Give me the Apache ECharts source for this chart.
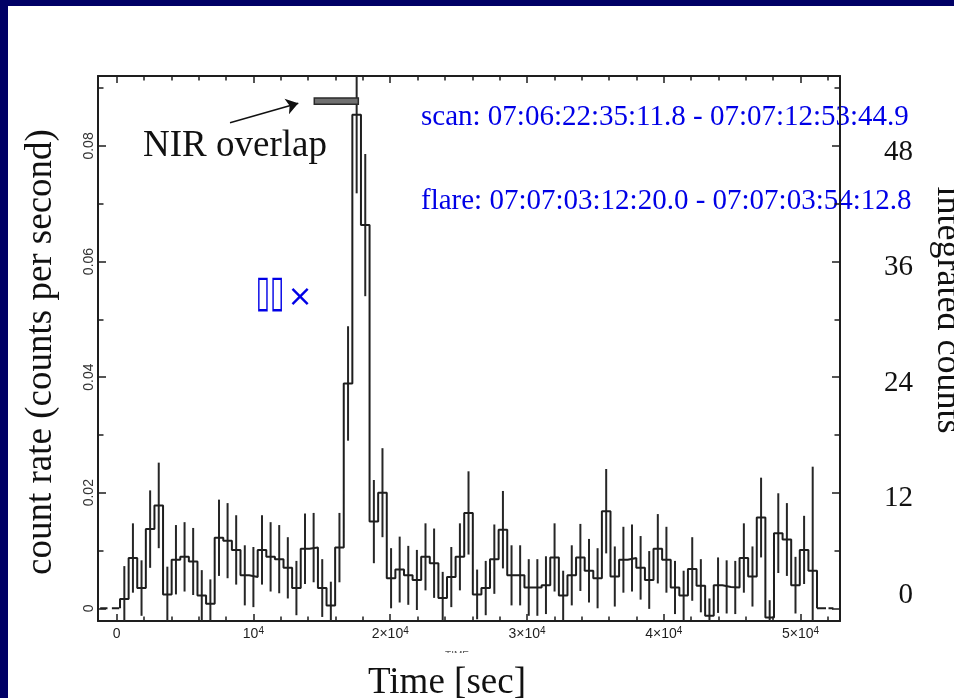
<!DOCTYPE html>
<html>
<head>
<meta charset="utf-8">
<title>X-ray light curve</title>
<script src="https://cdn.jsdelivr.net/npm/echarts@6/dist/echarts.min.js"></script>
<style>
  html, body { margin: 0; padding: 0; background: #ffffff; }
  #chart { width: 954px; height: 698px; }
</style>
</head>
<body>
<div id="chart"></div>
<script>
// ---- light curve data (count rate per time bin) ----
const binStartSec = 250;   // start of the first bin [s]
const binWidthSec = 629;   // bin width [s]

const countRate = [
  0.0016, 0.0087, 0.0035, 0.0137, 0.0178, 0.0024, 0.0084, 0.0089, 0.0081, 0.0022,
  0.0008, 0.0122, 0.0117, 0.0101, 0.0057, 0.0054, 0.0101, 0.0089, 0.0085, 0.0070,
  0.0035, 0.0103, 0.0105, 0.0035, 0.0005, 0.0105, 0.0389, 0.0854, 0.0663, 0.0150,
  0.0200, 0.0052, 0.0067, 0.0057, 0.0049, 0.0089, 0.0078, 0.0018, 0.0054, 0.0089,
  0.0165, 0.0024, 0.0035, 0.0085, 0.0136, 0.0057, 0.0057, 0.0036, 0.0036, 0.0040,
  0.0088, 0.0022, 0.0057, 0.0088, 0.0065, 0.0052, 0.0168, 0.0055, 0.0084, 0.0087,
  0.0070, 0.0049, 0.0103, 0.0084, 0.0036, 0.0022, 0.0068, 0.0039, -0.0013, 0.0040,
  0.0037, 0.0036, 0.0087, 0.0055, 0.0157, -0.0016, 0.0130, 0.0119, 0.0040, 0.0101,
  0.0065
];

const rateError = [
  0.0057, 0.0060, 0.0048, 0.0067, 0.0074, 0.0048, 0.0060, 0.0060, 0.0058, 0.0044,
  0.0042, 0.0066, 0.0065, 0.0060, 0.0052, 0.0052, 0.0060, 0.0060, 0.0059, 0.0053,
  0.0047, 0.0061, 0.0060, 0.0050, 0.0041, 0.0060, 0.0099, 0.0136, 0.0123, 0.0072,
  0.0077, 0.0052, 0.0057, 0.0051, 0.0052, 0.0058, 0.0060, 0.0045, 0.0052, 0.0058,
  0.0072, 0.0043, 0.0047, 0.0060, 0.0067, 0.0052, 0.0052, 0.0049, 0.0049, 0.0050,
  0.0059, 0.0043, 0.0052, 0.0058, 0.0055, 0.0052, 0.0073, 0.0052, 0.0057, 0.0058,
  0.0055, 0.0050, 0.0060, 0.0057, 0.0046, 0.0043, 0.0055, 0.0046, 0.0030, 0.0048,
  0.0046, 0.0046, 0.0060, 0.0052, 0.0069, 0.0030, 0.0069, 0.0063, 0.0049, 0.0059,
  0.0180
];

// zero-exposure stretches before and after the observation [s]
const leadingGap = [-1200, 250];
const trailingGap = [51199, 52400];

// NIR coverage window [s]
const nirOverlap = [14450, 17670];

// ---- axes ----
const xMajorTicks = [0, 10000, 20000, 30000, 40000, 50000];
const xTickBase = ['0', '10', '2\u00d710', '3\u00d710', '4\u00d710', '5\u00d710'];
const xTickExp = ['', '4', '4', '4', '4', '4'];
const yMajorTicks = [0, 0.02, 0.04, 0.06, 0.08];
const yTickLabels = ['0', '0.02', '0.04', '0.06', '0.08'];
const yMinorTicks = [0.01, 0.03, 0.05, 0.07, 0.09];
const countTickLabels = ['0', '12', '24', '36', '48'];

const scanLabel = 'scan: 07:06:22:35:11.8 - 07:07:12:53:44.9';
const flareLabel = 'flare: 07:07:03:12:20.0 - 07:07:03:54:12.8';

// ---- derived drawing data ----
const xMin = -1360, xMax = 52880;
const yMin = -0.0022, yMax = 0.0921;

const xMinorTicks = [];
for (let t = 2000; t <= 52000; t += 2000) {
  if (t % 10000 !== 0) xMinorTicks.push(t);
}

const stepPoints = [[binStartSec, 0]];
countRate.forEach((v, i) => {
  const a = binStartSec + i * binWidthSec;
  stepPoints.push([a, v], [a + binWidthSec, v]);
});
stepPoints.push([binStartSec + countRate.length * binWidthSec, 0]);

const errorBars = countRate.map((v, i) => [binStartSec + (i + 0.5) * binWidthSec, v, rateError[i]]);

const SERIF = '"Liberation Serif", "Times New Roman", Times, serif';
const SANS = '"Liberation Sans", Helvetica, Arial, sans-serif';
const INK = '#1e1e1e';
const BLUE = '#0000e6';
const NAVY = '#000066';

function indexOfTick(list, v) {
  for (let i = 0; i < list.length; i++) if (Math.abs(list[i] - v) < 1e-9) return i;
  return -1;
}

const axisLineStyle = { show: true, onZero: false, lineStyle: { color: INK, width: 2 } };
const noAxisLine = { show: false, onZero: false };
const tickStyle = { color: INK, width: 1.5 };

const chart = echarts.init(document.getElementById('chart'), null, { renderer: 'canvas' });

chart.setOption({
  animation: false,
  backgroundColor: '#ffffff',
  grid: { left: 98, right: 114, top: 76, bottom: 77, containLabel: false, outerBoundsMode: 'none' },
  xAxis: [
    { // bottom, major ticks with labels
      type: 'value', position: 'bottom', min: xMin, max: xMax,
      axisLine: axisLineStyle,
      axisTick: { show: true, inside: true, length: 7, lineStyle: tickStyle, customValues: xMajorTicks },
      axisLabel: {
        show: true, margin: 5, customValues: xMajorTicks,
        formatter: (v) => {
          const i = indexOfTick(xMajorTicks, v);
          if (i < 0) return '';
          return xTickExp[i] ? '{n|' + xTickBase[i] + '}{s|' + xTickExp[i] + '}' : '{n|' + xTickBase[i] + '}';
        },
        rich: {
          n: { fontFamily: SANS, fontSize: 14, color: INK, lineHeight: 17 },
          s: { fontFamily: SANS, fontSize: 10, color: INK, verticalAlign: 'top', lineHeight: 10 }
        }
      },
      splitLine: { show: false }
    },
    { // bottom, minor ticks
      type: 'value', position: 'bottom', min: xMin, max: xMax,
      axisLine: noAxisLine,
      axisTick: { show: true, inside: true, length: 4.5, lineStyle: tickStyle, customValues: xMinorTicks },
      axisLabel: { show: false }, splitLine: { show: false }
    },
    { // top, major ticks
      type: 'value', position: 'top', min: xMin, max: xMax,
      axisLine: axisLineStyle,
      axisTick: { show: true, inside: true, length: 7, lineStyle: tickStyle, customValues: xMajorTicks },
      axisLabel: { show: false }, splitLine: { show: false }
    },
    { // top, minor ticks
      type: 'value', position: 'top', min: xMin, max: xMax,
      axisLine: noAxisLine,
      axisTick: { show: true, inside: true, length: 4.5, lineStyle: tickStyle, customValues: xMinorTicks },
      axisLabel: { show: false }, splitLine: { show: false }
    }
  ],
  yAxis: [
    { // left, count rate
      type: 'value', position: 'left', min: yMin, max: yMax,
      axisLine: axisLineStyle,
      axisTick: { show: true, inside: true, length: 8, lineStyle: tickStyle, customValues: yMajorTicks },
      axisLabel: {
        show: true, rotate: 90, margin: 2, customValues: yMajorTicks,
        fontFamily: SANS, fontSize: 14, color: '#333333',
        formatter: (v) => { const i = indexOfTick(yMajorTicks, v); return i < 0 ? '' : yTickLabels[i]; }
      },
      splitLine: { show: false }
    },
    { // left, minor ticks
      type: 'value', position: 'left', min: yMin, max: yMax,
      axisLine: noAxisLine,
      axisTick: { show: true, inside: true, length: 5.5, lineStyle: tickStyle, customValues: yMinorTicks },
      axisLabel: { show: false }, splitLine: { show: false }
    },
    { // right, integrated counts
      type: 'value', position: 'right', min: yMin, max: yMax,
      axisLine: axisLineStyle,
      axisTick: { show: true, inside: true, length: 8, lineStyle: tickStyle, customValues: yMajorTicks },
      axisLabel: {
        show: true, margin: 73, align: 'right', customValues: yMajorTicks,
        formatter: (v) => {
          const i = indexOfTick(yMajorTicks, v);
          if (i < 0) return '';
          return i === 0 ? '{z|' + countTickLabels[i] + '}' : '{n|' + countTickLabels[i] + '}';
        },
        rich: {
          n: { fontFamily: SERIF, fontSize: 29, color: '#111111', padding: [12, 0, 0, 0] },
          z: { fontFamily: SERIF, fontSize: 29, color: '#111111', padding: [0, 0, 26, 0] }
        }
      },
      splitLine: { show: false }
    },
    { // right, minor ticks
      type: 'value', position: 'right', min: yMin, max: yMax,
      axisLine: noAxisLine,
      axisTick: { show: true, inside: true, length: 5.5, lineStyle: tickStyle, customValues: yMinorTicks },
      axisLabel: { show: false }, splitLine: { show: false }
    }
  ],
  series: [
    { // binned light curve
      name: 'count rate', type: 'line', xAxisIndex: 0, yAxisIndex: 0,
      data: stepPoints, symbol: 'none', clip: true,
      lineStyle: { color: INK, width: 2 }, z: 3
    },
    { // zero level before the first bin
      type: 'line', xAxisIndex: 0, yAxisIndex: 0,
      data: [[leadingGap[0], 0], [leadingGap[1], 0]], symbol: 'none',
      lineStyle: { color: INK, width: 2, type: [7.3, 4.4] }, z: 3
    },
    { // zero level after the last bin
      type: 'line', xAxisIndex: 0, yAxisIndex: 0,
      data: [[trailingGap[0], 0], [trailingGap[1], 0]], symbol: 'none',
      lineStyle: { color: INK, width: 2, type: [9, 2.5] }, z: 3
    },
    { // 1-sigma error bars
      type: 'custom', xAxisIndex: 0, yAxisIndex: 0,
      data: errorBars, encode: { x: 0, y: 1 }, z: 3,
      renderItem: (params, api) => {
        const t = api.value(0), v = api.value(1), e = api.value(2);
        const lo = Math.max(v - e, yMin), hi = Math.min(v + e, yMax);
        const p1 = api.coord([t, lo]), p2 = api.coord([t, hi]);
        return {
          type: 'line',
          shape: { x1: p1[0], y1: p1[1], x2: p2[0], y2: p2[1] },
          style: { stroke: '#262626', lineWidth: 2 }
        };
      }
    },
    { // NIR coverage bar
      type: 'custom', xAxisIndex: 0, yAxisIndex: 0,
      data: [nirOverlap], z: 4,
      renderItem: (params, api) => {
        const a = api.coord([api.value(0), 0.0883]);
        const b = api.coord([api.value(1), 0.0872]);
        return {
          type: 'rect',
          shape: { x: a[0], y: a[1], width: b[0] - a[0], height: b[1] - a[1] },
          style: { fill: '#707070', stroke: '#2a2a2a', lineWidth: 1.5 }
        };
      }
    },
    { // arrow pointing at the NIR bar
      type: 'lines', coordinateSystem: 'cartesian2d', xAxisIndex: 0, yAxisIndex: 0,
      symbol: ['none', 'arrow'], symbolSize: 12, z: 4,
      lineStyle: { color: '#111111', width: 1.5, opacity: 1, curveness: 0 },
      data: [{ coords: [[8290, 0.0840], [13280, 0.0874]] }]
    }
  ],
  graphic: [
    { type: 'rect', shape: { x: 0, y: 0, width: 954, height: 6 }, style: { fill: NAVY }, silent: true },
    { type: 'rect', shape: { x: 0, y: 0, width: 8, height: 698 }, style: { fill: NAVY }, silent: true },
    {
      type: 'text', x: 41, y: 352, rotation: Math.PI / 2,
      style: { text: 'count rate (counts per second)', font: '37px ' + SERIF, fill: '#111111', align: 'center', verticalAlign: 'middle' }
    },
    {
      type: 'text', x: 947, y: 310, rotation: -Math.PI / 2,
      style: { text: 'integrated counts', font: '36px ' + SERIF, fill: '#111111', align: 'center', verticalAlign: 'middle' }
    },
    {
      type: 'text', x: 457, y: 656,
      style: { text: 'TIME', font: '10px ' + SANS, fill: '#555555', align: 'center', verticalAlign: 'middle' }
    },
    { type: 'rect', shape: { x: 420, y: 653, width: 80, height: 14 }, style: { fill: '#ffffff' }, silent: true },
    {
      type: 'text', x: 447, y: 683,
      style: { text: 'Time [sec]', font: '37px ' + SERIF, fill: '#111111', align: 'center', verticalAlign: 'middle' }
    },
    {
      type: 'text', x: 235, y: 146,
      style: { text: 'NIR overlap', font: '37px ' + SERIF, fill: '#111111', align: 'center', verticalAlign: 'middle' }
    },
    {
      type: 'text', x: 421, y: 117,
      style: { text: scanLabel, font: '29px ' + SERIF, fill: BLUE, align: 'left', verticalAlign: 'middle' }
    },
    {
      type: 'text', x: 421, y: 201,
      style: { text: flareLabel, font: '29px ' + SERIF, fill: BLUE, align: 'left', verticalAlign: 'middle' }
    },
    {
      type: 'text', x: 270, y: 295, scaleY: 1.7,
      style: { text: '\u25af\u25af', font: '26px "DejaVu Sans", sans-serif', fill: BLUE, align: 'center', verticalAlign: 'middle' }
    },
    {
      type: 'text', x: 300, y: 298,
      style: { text: '\u00d7', font: '30px "DejaVu Sans", sans-serif', fill: BLUE, align: 'center', verticalAlign: 'middle' }
    }
  ]
});
</script>
</body>
</html>
